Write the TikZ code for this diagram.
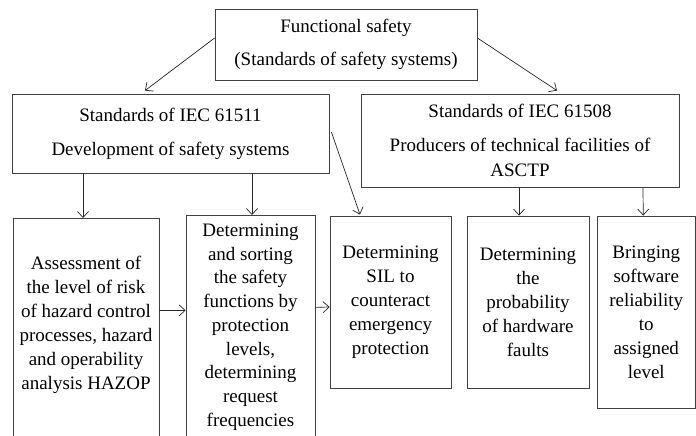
\documentclass[tikz,border=0pt]{standalone}
\usepackage{fontspec}
\setmainfont{Liberation Serif}
\usetikzlibrary{arrows.meta}
\begin{document}
\begin{tikzpicture}[x=1pt,y=-1pt,
  box/.style={draw=black!75, line width=0.8pt, inner sep=0pt, align=center, font=\fontsize{19}{24}\selectfont},
  txt/.style={inner sep=0pt, align=center, font=\fontsize{19}{24}\selectfont},
  arr/.style={draw=black!85, line width=0.7pt, -{Straight Barb[length=6pt,width=11pt]}}]
\clip (0,0) rectangle (696,436);
\fill[white] (0,0) rectangle (696,436);
% upper boxes
\node[box, minimum width=262pt, minimum height=71pt] (top) at (346,44.5) {Functional safety\\[9pt](Standards of safety systems)};
\node[box, minimum width=317pt, minimum height=79pt] (L) at (170.5,133.5) {Standards of IEC 61511\\[10pt]Development of safety systems};
\node[box, minimum width=318pt, minimum height=93pt] (R) at (520,140.5) {Standards of IEC 61508\\[10pt]Producers of technical facilities of\\[1pt]ASCTP};
% lower boxes
\node[box, minimum width=146pt, minimum height=222pt, anchor=north] (b1) at (86,218) {};
\node[txt] (t1) at (86,325) {Assessment of\\the level of risk\\of hazard control\\processes, hazard\\and operability\\analysis HAZOP};
\node[box, minimum width=129pt, minimum height=225pt, anchor=north] (b2) at (250.5,215) {};
\node[txt] (t2) at (250.5,327) {Determining\\[-0.25pt]and sorting\\[-0.25pt]the safety\\[-0.25pt]functions by\\[-0.25pt]protection\\[-0.25pt]levels,\\[-0.25pt]determining\\[-0.25pt]request\\[-0.25pt]frequencies};
\node[box, minimum width=121pt, minimum height=172pt] (b3) at (390.5,302) {Determining\\SIL to\\counteract\\emergency\\protection};
\node[box, minimum width=122pt, minimum height=172pt] (b4) at (528,302) {Determining\\the\\probability\\of hardware\\faults};
\node[box, minimum width=98.5pt, minimum height=192pt] (b5) at (646.25,312) {Bringing\\software\\reliability\\to\\assigned\\level};
% connectors
\draw[arr] ([yshift=6.5pt]top.west) -- ([xshift=-25.5pt,yshift=3pt]L.north);
\draw[arr] ([yshift=6.5pt]top.east) -- ([xshift=37pt,yshift=3pt]R.north);
\draw[arr] ([xshift=2pt,yshift=1.5pt]L.east) -- ([xshift=-30.5pt,yshift=1pt]b3.north);
\draw[arr] ([xshift=-87.5pt]L.south) -- ([xshift=-3pt]b1.north);
\draw[arr] ([xshift=81.5pt]L.south) -- ([xshift=1.5pt]b2.north);
\draw[arr] ([xshift=-1pt]R.south) -- ([xshift=-9pt]b4.north);
\draw[arr] ([xshift=123pt]R.south) -- ([xshift=-3pt]b5.north);
\draw[arr] ([yshift=19pt]b1.east) -- ([yshift=17.5pt]b2.west);
\draw[arr] ([yshift=20.5pt]b2.east) -- ([yshift=-5pt]b3.west);
\end{tikzpicture}
\end{document}
